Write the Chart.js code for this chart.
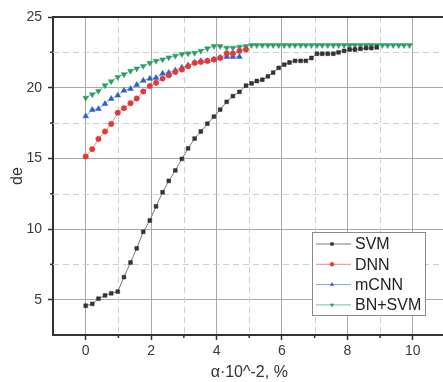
<!DOCTYPE html>
<html><head><meta charset="utf-8">
<script src="https://cdn.jsdelivr.net/npm/chart.js@4/dist/chart.umd.min.js"></script>
<style>
html,body{margin:0;padding:0;overflow:hidden;background:#fff;width:443px;height:382px}
#wrap{width:450px;height:382px}
</style></head>
<body><div id="wrap"><canvas id="c" width="450" height="382"></canvas></div>
<script>
// ---- data ----
const seriesNames = ['SVM', 'DNN', 'mCNN', 'BN+SVM'];
const xValues = [
  0, 0.2, 0.39, 0.59, 0.78, 0.98, 1.17, 1.37, 1.56, 1.76,
  1.96, 2.15, 2.35, 2.54, 2.74, 2.94, 3.13, 3.33, 3.52, 3.72,
  3.92, 4.11, 4.31, 4.50, 4.70, 4.90, 5.07, 5.23, 5.40, 5.57,
  5.73, 5.90, 6.07, 6.23, 6.40, 6.57, 6.73, 6.90, 7.07, 7.23,
  7.40, 7.57, 7.73, 7.90, 8.07, 8.23, 8.40, 8.57, 8.73, 8.90,
  9.07, 9.23, 9.40, 9.57, 9.73, 9.90
];
const svmValues = [
  4.57, 4.70, 5.07, 5.30, 5.45, 5.57, 6.60, 7.63, 8.63, 9.80,
  10.60, 11.60, 12.60, 13.40, 14.15, 14.96, 15.70, 16.40, 16.90, 17.45,
  17.95, 18.45, 19.00, 19.40, 19.70, 20.15, 20.30, 20.47, 20.56, 20.80,
  21.07, 21.40, 21.63, 21.78, 21.90, 21.90, 21.90, 22.10, 22.40, 22.40,
  22.40, 22.40, 22.50, 22.60, 22.70, 22.70, 22.75, 22.80, 22.80, 22.85
];
const dnnValues = [
  15.13, 15.65, 16.37, 16.90, 17.43, 18.22, 18.55, 18.90, 19.23, 19.73,
  20.12, 20.35, 20.64, 20.87, 21.10, 21.28, 21.51, 21.75, 21.82, 21.89,
  21.99, 22.10, 22.42, 22.42, 22.60, 22.70
];
const mcnnValues = [
  17.98, 18.43, 18.50, 18.86, 19.21, 19.45, 19.80, 19.92, 20.20, 20.50,
  20.64, 20.70, 21.00, 21.06, 21.23, 21.42, 21.58, 21.77, 21.89, 21.89,
  21.99, 22.13, 22.18, 22.18, 22.18
];
const bnSvmValues = [
  19.28, 19.52, 19.76, 20.16, 20.44, 20.75, 20.94, 21.18, 21.35, 21.53,
  21.75, 21.89, 21.99, 22.13, 22.25, 22.37, 22.42, 22.46, 22.60, 22.77,
  22.94, 22.94, 22.82, 22.82, 22.89, 22.94, 23.00, 23.00, 23.00, 23.00,
  23.00, 23.00, 23.00, 23.00, 23.00, 23.00, 23.00, 23.00, 23.00, 23.00,
  23.00, 23.00, 23.00, 23.00, 23.00, 23.00, 23.00, 23.00, 23.00, 23.00,
  23.00, 23.00, 23.00, 23.00, 23.00, 23.00
];
const xTicks = [0, 2, 4, 6, 8, 10];
const xMinorTicks = [1, 3, 5, 7, 9];
const yTicks = [5, 10, 15, 20, 25];
const yMinorTicks = [7.5, 12.5, 17.5, 22.5];
const xTitle = 'α·10^-2, %';
const yTitle = 'de';

// ---- styling ----
const FONT = "'Liberation Sans', Arial, sans-serif";
const AXIS = '#333333';
const styles = [
  {line: '#7a7a7a', mark: '#333333', pointStyle: 'rect', radius: 2.7, rotation: 0},
  {line: '#ee8a8a', mark: '#e03a3a', pointStyle: 'circle', radius: 2.7, rotation: 0},
  {line: '#80a8de', mark: '#2a60c6', pointStyle: 'triangle', radius: 3.3, rotation: 0},
  {line: '#74c29c', mark: '#2e9c68', pointStyle: 'triangle', radius: 3.3, rotation: 180}
];
const allValues = [svmValues, dnnValues, mcnnValues, bnSvmValues];
const toPoints = ys => ys.map((y, i) => ({x: xValues[i], y}));

const datasets = seriesNames.map((name, i) => ({
  label: name,
  data: toPoints(allValues[i]),
  borderColor: styles[i].line,
  backgroundColor: styles[i].mark,
  pointBorderColor: styles[i].mark,
  pointBackgroundColor: styles[i].mark,
  pointStyle: styles[i].pointStyle,
  pointRadius: styles[i].radius,
  pointRotation: styles[i].rotation,
  pointBorderWidth: 0.5,
  borderWidth: 1,
  tension: 0,
  fill: false
}));

const decor = {
  id: 'decor',
  beforeDatasetsDraw(chart) {
    const {ctx, chartArea: a, scales: {x, y}} = chart;
    ctx.save();
    ctx.strokeStyle = '#cfcfcf';
    ctx.lineWidth = 1;
    ctx.setLineDash([6, 4]);
    xMinorTicks.forEach(v => {
      const px = Math.round(x.getPixelForValue(v)) + 0.5;
      ctx.beginPath(); ctx.moveTo(px, a.top); ctx.lineTo(px, a.bottom); ctx.stroke();
    });
    yMinorTicks.forEach(v => {
      const py = Math.round(y.getPixelForValue(v)) + 0.5;
      ctx.beginPath(); ctx.moveTo(a.left, py); ctx.lineTo(a.right, py); ctx.stroke();
    });
    ctx.restore();
  },
  afterDraw(chart) {
    const {ctx, chartArea: a, scales: {x, y}} = chart;
    ctx.save();
    // frame top/right
    ctx.strokeStyle = AXIS;
    ctx.lineWidth = 2;
    ctx.beginPath();
    ctx.moveTo(a.left - 1, a.top); ctx.lineTo(a.right, a.top); ctx.lineTo(a.right, a.bottom);
    ctx.stroke();
    // minor ticks
    ctx.lineWidth = 1.5;
    xMinorTicks.forEach(v => {
      const px = x.getPixelForValue(v);
      ctx.beginPath(); ctx.moveTo(px, a.bottom); ctx.lineTo(px, a.bottom + 3); ctx.stroke();
    });
    yMinorTicks.forEach(v => {
      const py = y.getPixelForValue(v);
      ctx.beginPath(); ctx.moveTo(a.left, py); ctx.lineTo(a.left - 3, py); ctx.stroke();
    });
    // legend
    const L = {x: 312, y: 232, w: 113, h: 83, row: 20.3};
    ctx.fillStyle = '#ffffff';
    ctx.fillRect(L.x, L.y, L.w, L.h);
    ctx.strokeStyle = '#8a8a8a';
    ctx.lineWidth = 1;
    ctx.strokeRect(L.x + 0.5, L.y + 0.5, L.w, L.h);
    ctx.font = "16px " + FONT;
    ctx.textBaseline = 'middle';
    ctx.textAlign = 'left';
    chart.data.datasets.forEach((ds, i) => {
      const cy = L.y + 12 + i * L.row;
      ctx.strokeStyle = ds.borderColor;
      ctx.lineWidth = 1;
      ctx.beginPath(); ctx.moveTo(L.x + 4, cy); ctx.lineTo(L.x + 39, cy); ctx.stroke();
      ctx.fillStyle = ds.pointBackgroundColor;
      ctx.strokeStyle = ds.pointBorderColor;
      ctx.lineWidth = 0.5;
      Chart.helpers.drawPoint(ctx, {pointStyle: ds.pointStyle, radius: 2, rotation: ds.pointRotation, borderWidth: 0.5}, L.x + 20, cy);
      ctx.fillStyle = '#222222';
      ctx.fillText(ds.label, L.x + 43, cy + 1);
    });
    ctx.restore();
  }
};

new Chart(document.getElementById('c'), {
  type: 'line',
  data: {datasets},
  options: {
    responsive: false,
    animation: false,
    devicePixelRatio: 1,
    layout: {padding: {left: 0, top: 17, right: 3, bottom: 0}},
    plugins: {legend: {display: false}, tooltip: {enabled: false}},
    scales: {
      x: {
        type: 'linear', min: -1, max: 11,
        afterBuildTicks: s => { s.ticks = xTicks.map(v => ({value: v})); },
        afterFit: s => { s.height = 47; },
        grid: {color: '#a8a8a8', lineWidth: 1, tickLength: 5, tickColor: AXIS, tickWidth: 1.5},
        border: {color: AXIS, width: 2},
        ticks: {color: '#3a3a3a', font: {size: 14, family: FONT}, padding: 3, maxRotation: 0, autoSkip: false},
        title: {display: true, text: xTitle, color: '#333', font: {size: 16, family: FONT}, padding: {top: 0, bottom: 0}}
      },
      y: {
        type: 'linear', min: 2.5, max: 25,
        afterBuildTicks: s => { s.ticks = yTicks.map(v => ({value: v})); },
        afterFit: s => { s.width = 53; },
        grid: {color: '#a8a8a8', lineWidth: 1, tickLength: 5, tickColor: AXIS, tickWidth: 1.5},
        border: {color: AXIS, width: 2},
        ticks: {color: '#3a3a3a', font: {size: 14, family: FONT}, padding: 6},
        title: {display: true, text: yTitle, color: '#333', font: {size: 16, family: FONT}, padding: {top: 8, bottom: 0}}
      }
    }
  },
  plugins: [decor]
});
</script>
</body></html>
